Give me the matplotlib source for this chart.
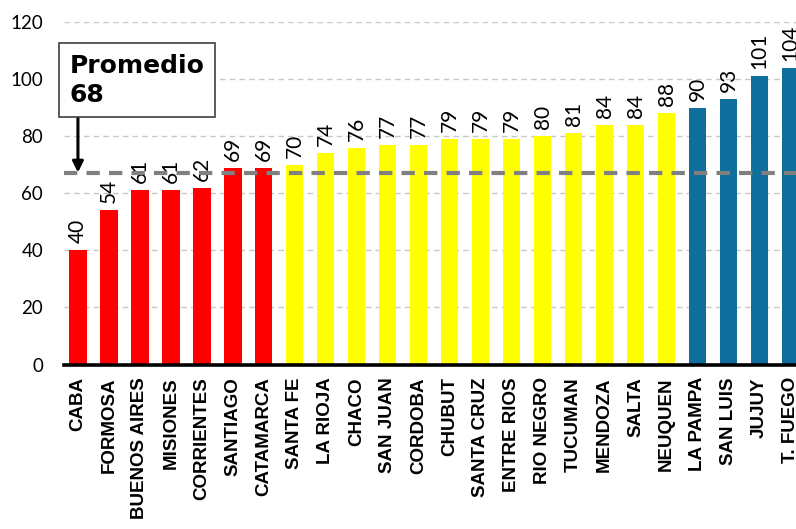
import numpy as np
import matplotlib.pyplot as plt

# Datos del gráfico
provincias = ['CABA', 'FORMOSA', 'BUENOS AIRES', 'MISIONES', 'CORRIENTES',
              'SANTIAGO', 'CATAMARCA', 'SANTA FE', 'LA RIOJA', 'CHACO',
              'SAN JUAN', 'CORDOBA', 'CHUBUT', 'SANTA CRUZ', 'ENTRE RIOS',
              'RIO NEGRO', 'TUCUMAN', 'MENDOZA', 'SALTA', 'NEUQUEN',
              'LA PAMPA', 'SAN LUIS', 'JUJUY', 'T. FUEGO']
valores = [40, 54, 61, 61, 62, 69, 69, 70, 74, 76, 77, 77, 79, 79, 79,
           80, 81, 84, 84, 88, 90, 93, 101, 104]
grupos = ['bajo'] * 7 + ['medio'] * 13 + ['alto'] * 4
colores_grupo = {'bajo': '#FF0000', 'medio': '#FFFF00', 'alto': '#0E6F9C'}
promedio_linea = 67
promedio_texto = 'Promedio\n68'
y_ticks = [0, 20, 40, 60, 80, 100, 120]

fig = plt.figure(figsize=(7.96, 5.29), dpi=100)
ax = fig.add_axes([0.0804, 0.3108, 0.9196, 0.6476])

x = np.arange(len(provincias))
colores = [colores_grupo[g] for g in grupos]
bars = ax.bar(x, valores, width=0.56, color=colores, zorder=2)

# Etiquetas de valores
for xi, v in zip(x, valores):
    ax.annotate(str(v), (xi, v), xytext=(0, 5), textcoords='offset points',
                ha='center', va='bottom', rotation=90, fontsize=15,
                family='Lato', annotation_clip=False)

# Línea de promedio
ax.axhline(promedio_linea, color='#808080', linewidth=3, linestyle=(0, (3.2, 2.2)),
           zorder=3)

# Caja del promedio y flecha
ax.text(-0.26, 108.8, promedio_texto, ha='left', va='top', fontsize=18,
        fontweight='bold', family='DejaVu Sans', zorder=5, clip_on=False,
        linespacing=1.25,
        bbox=dict(boxstyle='square,pad=0.42', facecolor='white',
                  edgecolor='#404040', linewidth=1.2))
ax.annotate('', xy=(0, promedio_linea + 0.3), xytext=(0, 86.5),
            arrowprops=dict(arrowstyle='-|>', color='black', lw=2.2,
                            mutation_scale=16, shrinkA=0, shrinkB=0),
            zorder=4, annotation_clip=False)

ax.set_xlim(-0.45, 23.18)
ax.set_ylim(0, 120)
ax.set_yticks(y_ticks)
ax.set_xticks(x)
ax.set_xticklabels(provincias, rotation=90, fontsize=13.5, fontweight='bold',
                   family='Liberation Sans', va='top', ha='center')
for lbl in ax.get_yticklabels():
    lbl.set_family('Lato')
    lbl.set_fontsize(13.5)
ax.tick_params(axis='y', length=0, pad=15)
ax.tick_params(axis='x', length=0, pad=9)

ax.grid(axis='y', color='#C8C8C8', linestyle=(0, (4, 3)), linewidth=1, zorder=0)
ax.set_axisbelow(True)
for s in ['left', 'right', 'top']:
    ax.spines[s].set_visible(False)
ax.spines['bottom'].set_linewidth(2.6)
ax.spines['bottom'].set_color('black')
ax.spines['bottom'].set_zorder(4)

fig.savefig('out.png', dpi=100)
